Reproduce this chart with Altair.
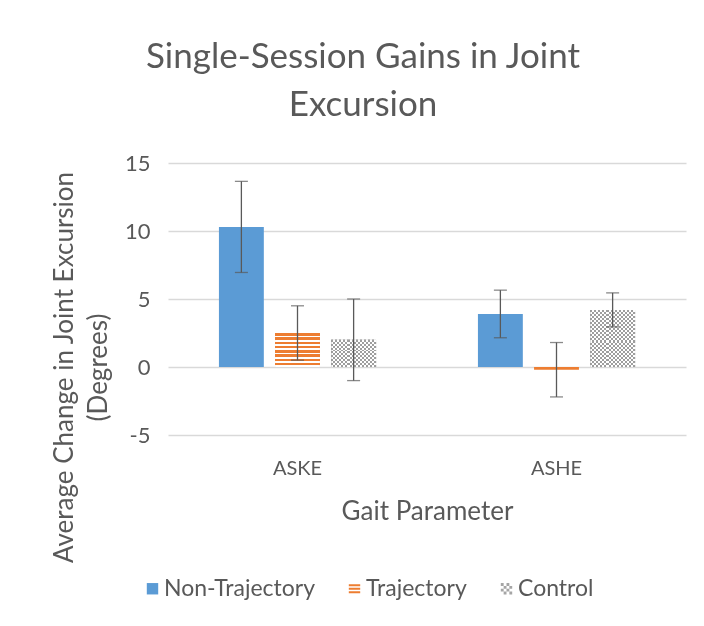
import altair as alt
import pandas as pd

categories = ["ASKE", "ASHE"]
series = ["Non-Trajectory", "Trajectory", "Control"]
mean_non_traj = [10.3, 3.9]
mean_traj = [2.5, -0.2]
mean_control = [2.0, 4.2]
err_non_traj = [3.35, 1.75]
err_traj = [2.0, 2.0]
err_control = [3.0, 1.25]

colors = ["#5B9BD5", "#ED7D31", "#A5A5A5"]
TEXT = "#595959"
FONT = "Lato"
W, H = 518, 272
YMIN, YMAX = -5, 15

rows = []
for s, means, errs in [("Non-Trajectory", mean_non_traj, err_non_traj),
                       ("Trajectory", mean_traj, err_traj),
                       ("Control", mean_control, err_control)]:
    for c, m, e in zip(categories, means, errs):
        rows.append({"param": c, "series": s, "mean": m, "lo": m - e, "hi": m + e})
df = pd.DataFrame(rows)

x_enc = alt.X("param:N", sort=categories,
              scale=alt.Scale(domain=categories, paddingInner=0.35, paddingOuter=0.175),
              axis=alt.Axis(title="Gait Parameter", domain=False, ticks=False,
                            labelAngle=0, labelFontSize=20, labelColor=TEXT, labelFont=FONT,
                            labelPadding=23, titleFontSize=26, titleColor=TEXT, titleFont=FONT,
                            titleFontWeight="normal", titlePadding=20))
xo_enc = alt.XOffset("series:N", sort=series,
                     scale=alt.Scale(domain=series, paddingInner=0.2, paddingOuter=0.1))
y_enc = alt.Y("mean:Q", scale=alt.Scale(domain=[YMIN, YMAX], nice=False),
              axis=alt.Axis(values=[-5, 0, 5, 10, 15], domain=False, ticks=False,
                            gridColor="#D9D9D9", gridWidth=1.3, labelFontSize=22,
                            labelColor=TEXT, labelFont=FONT, labelPadding=18,
                            labelExpr="toString(datum.value)",
                            title=["Average Change in Joint Excursion", "(Degrees)"],
                            titleFontSize=26, titleColor=TEXT, titleFont=FONT,
                            titleFontWeight="normal", titleAngle=-90, titleBaseline="top",
                            titleAlign="center", titleX=-117, titleY=204, titleLineHeight=34))

# legend symbols: solid square, horizontal stripes, checker
sq = "M-1,-1H1V1H-1Z"
stripes_path = "M-1,-0.8H1V-0.45H-1Z M-1,-0.18H1V0.18H-1Z M-1,0.45H1V0.8H-1Z"
checker_path = " ".join(
    f"M{-1 + 0.5 * i},{-1 + 0.5 * j}h0.5v0.5h-0.5Z"
    for i in range(4) for j in range(4) if (i + j) % 2 == 0)

leg = alt.Legend(title=None, orient="none", direction="horizontal", legendX=-27, legendY=414,
                 labelFontSize=23, labelColor=TEXT, labelFont=FONT, columnPadding=28,
                 labelOffset=0, symbolOpacity=1, symbolStrokeWidth=0, symbolSize=130)

color_scale = alt.Scale(domain=series, range=colors)
color_enc = alt.Color("series:N", sort=series, scale=color_scale, legend=leg)
shape_enc = alt.Shape("series:N", sort=series, legend=leg,
                      scale=alt.Scale(domain=series, range=[sq, stripes_path, checker_path]))

base = alt.Chart(df).encode(x=x_enc, xOffset=xo_enc)

bars = base.mark_bar().encode(y=y_enc, y2=alt.datum(0), color=color_enc)

legend_pts = base.mark_point(filled=True, opacity=0, size=130).encode(
    y=alt.Y("mean:Q", scale=alt.Scale(domain=[YMIN, YMAX], nice=False)),
    color=color_enc, shape=shape_enc,
)


def stripe_gradient(n, c1, c2, vertical_stripes=False, frac=0.5):
    stops = []
    for k in range(n):
        a = k / n
        b = (k + frac) / n
        e = (k + 1) / n
        stops += [alt.GradientStop(offset=a, color=c1), alt.GradientStop(offset=b, color=c1),
                  alt.GradientStop(offset=b, color=c2), alt.GradientStop(offset=e, color=c2)]
    if vertical_stripes:
        return alt.LinearGradient(gradient="linear", stops=stops, x1=0, y1=0, x2=1, y2=0)
    return alt.LinearGradient(gradient="linear", stops=stops, x1=0, y1=0, x2=0, y2=1)


layers = [bars]
for _, r in df.iterrows():
    px = H * abs(r["mean"]) / (YMAX - YMIN)
    sub = df[(df.param == r["param"]) & (df.series == r["series"])]
    if r["series"] == "Trajectory" and px > 6:
        n = max(1, round(px / 4))
        layers.append(alt.Chart(sub).mark_bar(
            fill=stripe_gradient(n, colors[1], "#FFFFFF", frac=0.6)).encode(
            x=x_enc, xOffset=xo_enc, y=y_enc, y2=alt.datum(0)))
    if r["series"] == "Control":
        nrows = max(1, round(px / 4))
        ncols = 11
        layers.append(alt.Chart(sub).mark_bar(
            fill=stripe_gradient(nrows, "#FFFFFF", "#000000")).encode(
            x=x_enc, xOffset=xo_enc, y=y_enc, y2=alt.datum(0)))
        layers.append(alt.Chart(sub).mark_bar(
            fill=stripe_gradient(ncols, "#FFFFFF", "#000000", vertical_stripes=True),
            blend="difference").encode(
            x=x_enc, xOffset=xo_enc, y=y_enc, y2=alt.datum(0)))
        layers.append(alt.Chart(sub).mark_bar(fill="#9E9E9E", blend="screen").encode(
            x=x_enc, xOffset=xo_enc, y=y_enc, y2=alt.datum(0)))

rules = base.mark_rule(color="#595959", strokeWidth=1.3).encode(
    y=alt.Y("lo:Q", scale=alt.Scale(domain=[YMIN, YMAX], nice=False)), y2="hi:Q")
caps_lo = base.mark_tick(color="#595959", size=13, thickness=1.3).encode(
    y=alt.Y("lo:Q", scale=alt.Scale(domain=[YMIN, YMAX], nice=False)))
caps_hi = base.mark_tick(color="#595959", size=13, thickness=1.3).encode(
    y=alt.Y("hi:Q", scale=alt.Scale(domain=[YMIN, YMAX], nice=False)))

layers += [rules, caps_lo, caps_hi, legend_pts]

chart = alt.layer(*layers).properties(
    width=W, height=H,
    autosize=alt.AutoSizeParams(type="none"),
    padding={"left": 160, "top": 155, "right": 10, "bottom": 180},
    title=alt.TitleParams(["Single-Session Gains in Joint", "Excursion"], fontSize=35,
                          font=FONT, color=TEXT, fontWeight="normal", anchor="middle",
                          dx=-64, offset=29, lineHeight=48),
).configure_view(stroke=None)

chart.save("out.html", embed_options={"renderer": "svg", "actions": False})
